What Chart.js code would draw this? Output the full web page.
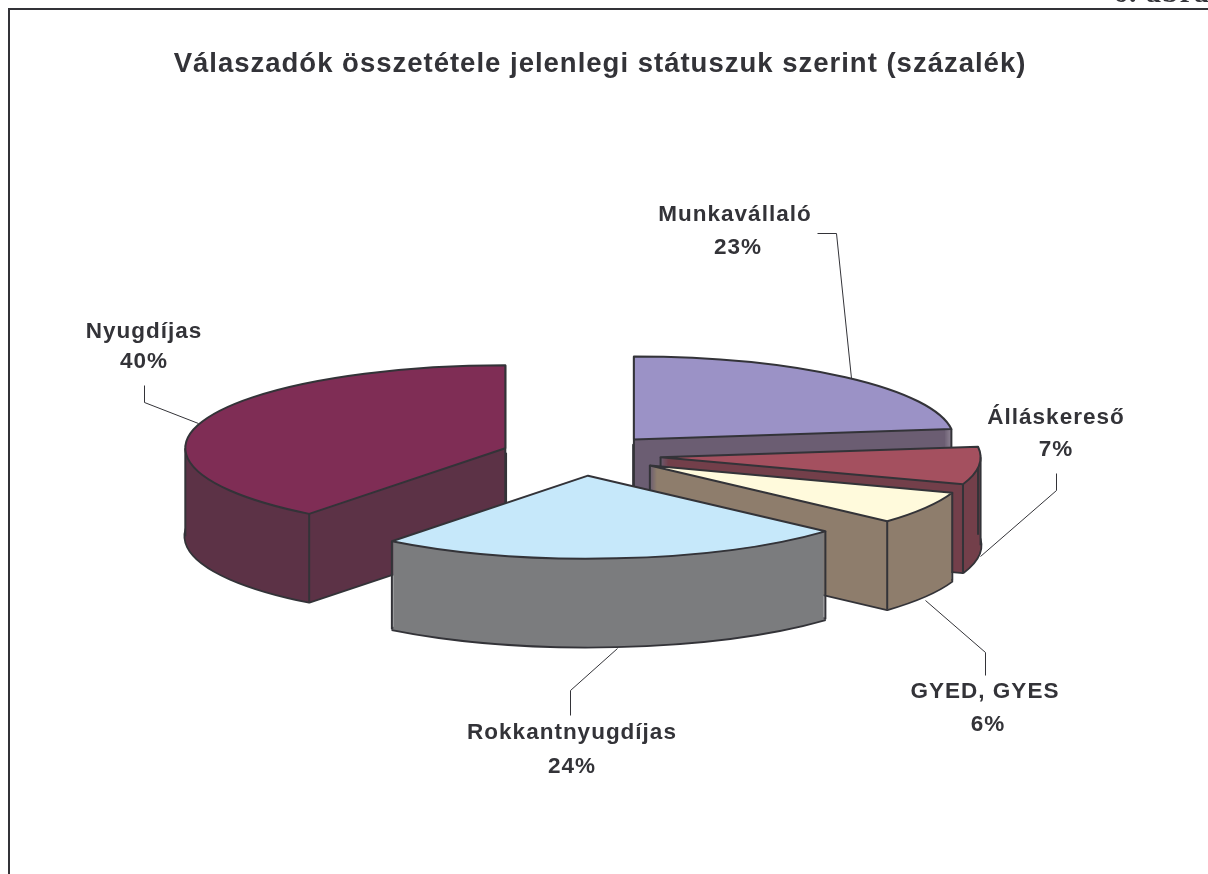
<!DOCTYPE html>
<html lang="hu">
<head>
<meta charset="utf-8">
<title>Válaszadók összetétele</title>
<script src="https://cdn.jsdelivr.net/npm/chart.js@4"></script>
<style>
html,body{margin:0;padding:0;background:#fff;overflow:hidden;width:1208px;height:874px;}
#frame{position:absolute;left:8px;top:8px;width:1220px;height:900px;border:2px solid #333338;}
#wrap{position:absolute;left:0;top:0;width:1208px;height:874px;}
</style>
</head>
<body>
<div id="frame"></div>
<div id="wrap"><canvas id="pie" width="1208" height="874"></canvas></div>
<script>
//======================================
// Data
//======================================

const categories = ["Munkavállaló","Álláskereső","GYED, GYES","Rokkantnyugdíjas","Nyugdíjas"];
const values = [23,7.3,6.4,23.8,39.5];

const topColors = ["#9B92C6","#A4505F","#FFFADC","#C6E8FA","#7F2D55"];
const sideColors = ["#6B5D72","#733F4A","#8E7D6C","#7B7C7E","#5C3246"];

// back to front, so the nearer slices cover the farther ones
const paintOrder = [4,0,1,2,3];

//======================================
// Fake 3D settings
//======================================

const centerX = 581;
const centerY = 455;
const radiusX = 320;
const squash = 83/320;
const explode = 80;
const depth = 88;
const lineColor = "#333338";
const textFont = "bold 22.5px 'Liberation Sans', Arial, sans-serif";

// label centres and leader lines, same order as categories
const labelPos = [[735,215,738,248],[1056,418,1056,450],[985,692,988,725],[572,733,572,767],[144,332,144,362]];
const leaders = [
    [[817,233],[836,233],[851,378]],
    [[1056,473],[1056,490],[980,556]],
    [[925,600],[985,652],[985,675]],
    [[617,648],[570,690],[570,715]],
    [[144,385],[144,402],[198,423]]
];

//======================================
// Slice helpers
//======================================

function sliceGeometry(arc){

    const mid=(arc.startAngle+arc.endAngle)/2;

    return {
        x:centerX+Math.cos(mid)*explode,
        y:centerY+Math.sin(mid)*explode*squash,
        rx:arc.outerRadius,
        ry:arc.outerRadius*squash
    };

}

function addSlice(ctx,arc,g,dy){

    ctx.moveTo(g.x,g.y+dy);
    ctx.ellipse(g.x,g.y+dy,g.rx,g.ry,0,arc.startAngle,arc.endAngle);
    ctx.closePath();

}

function tracePath(ctx,arc,g,dy){

    ctx.beginPath();
    addSlice(ctx,arc,g,dy);

}

// top face, the library's own arc squashed into an ellipse
function fillTop(ctx,arc,g){

    ctx.save();
    ctx.translate(g.x,g.y);
    ctx.scale(1,squash);
    ctx.translate(-arc.x,-arc.y);
    arc.draw(ctx);
    ctx.restore();

}

function drawSlice(ctx,arc,i){

    const g=sliceGeometry(arc);

    ctx.strokeStyle=lineColor;
    ctx.lineJoin="bevel";

    // bottom contour, the wall fill then hides its inner half
    ctx.lineWidth=3.5;
    tracePath(ctx,arc,g,depth);
    ctx.stroke();

    // wall: all the layers in one fill so their edges do not pile up
    ctx.beginPath();
    for(let d=depth;d>0;d--){
        addSlice(ctx,arc,g,d);
    }
    ctx.fillStyle=sideColors[i];
    ctx.fill();

    // vertical edges of the wall
    tracePath(ctx,arc,g,0);
    const apexHidden=ctx.isPointInPath(g.x,g.y+3);

    let edges=[arc.startAngle,arc.endAngle];
    [0,Math.PI].forEach(a=>{
        for(let k=-1;k<=2;k++){
            const t=a+k*Math.PI*2;
            if(t>arc.startAngle && t<arc.endAngle){
                edges.push(t);
            }
        }
    });

    ctx.lineWidth=2;
    ctx.beginPath();
    edges.forEach(a=>{
        const px=g.x+Math.cos(a)*g.rx;
        const py=g.y+Math.sin(a)*g.ry;
        ctx.moveTo(px,py);
        ctx.lineTo(px,py+depth);
    });
    if(!apexHidden){
        ctx.moveTo(g.x,g.y);
        ctx.lineTo(g.x,g.y+depth);
    }
    ctx.stroke();

    fillTop(ctx,arc,g);

    ctx.lineJoin="round";
    tracePath(ctx,arc,g,0);
    ctx.stroke();

}

//======================================
// Plugin
//======================================

const pie3d = {

    id:"pie3d",

    beforeDraw(chart){
        chart.ctx.letterSpacing="1px";
    },

    beforeDatasetDraw(chart){

        const ctx=chart.ctx;
        const arcs=chart.getDatasetMeta(0).data;

        paintOrder.forEach(i=>drawSlice(ctx,arcs[i],i));

        return false;

    },

    afterDraw(chart){

        const ctx=chart.ctx;

        ctx.save();

        // leader lines
        ctx.strokeStyle=lineColor;
        ctx.lineWidth=1;
        leaders.forEach(line=>{
            ctx.beginPath();
            line.forEach((p,n)=>{
                if(n===0){
                    ctx.moveTo(p[0]+0.5,p[1]+0.5);
                }else{
                    ctx.lineTo(p[0]+0.5,p[1]+0.5);
                }
            });
            ctx.stroke();
        });

        // labels
        ctx.font=textFont;
        ctx.fillStyle=lineColor;
        ctx.textAlign="center";
        ctx.textBaseline="middle";
        categories.forEach((name,i)=>{
            const p=labelPos[i];
            ctx.fillText(name,p[0],p[1]);
            ctx.fillText(Math.round(values[i])+"%",p[2],p[3]);
        });

        // page caption cut off by the top of the scan
        ctx.font="bold 30px 'Liberation Serif', serif";
        ctx.textAlign="left";
        ctx.textBaseline="alphabetic";
        ctx.fillText("6. ábra",1113,2);

        ctx.restore();

    }

};

//======================================
// Chart
//======================================

new Chart(document.getElementById("pie"),{

    type:"pie",

    data:{
        labels:categories,
        datasets:[{
            data:values,
            backgroundColor:topColors,
            borderWidth:0,
            clip:false
        }]
    },

    options:{
        responsive:false,
        animation:false,
        events:[],
        radius:radiusX,
        layout:{
            padding:{right:8}
        },
        plugins:{
            legend:{display:false},
            tooltip:{enabled:false},
            title:{
                display:true,
                text:"Válaszadók összetétele jelenlegi státuszuk szerint (százalék)",
                color:lineColor,
                font:{
                    family:"'Liberation Sans', Arial, sans-serif",
                    size:27.5,
                    weight:"bold"
                },
                padding:{top:48,bottom:20}
            }
        }
    },

    plugins:[pie3d]

});
</script>
</body>
</html>
